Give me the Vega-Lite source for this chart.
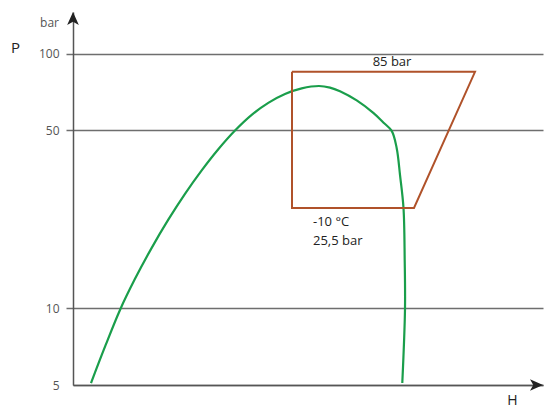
{
  "$schema": "https://vega.github.io/schema/vega-lite/v6.json",
  "width": 470,
  "height": 373,
  "autosize": "none",
  "padding": {"left": 73, "top": 12, "right": 1, "bottom": 23},
  "background": "white",
  "config": {
    "view": {"stroke": null},
    "font": "Open Sans",
    "text": {"font": "Open Sans"}
  },
  "datasets": {
    "dome": [
      {"o": 1, "h": 18, "p": 5.09},
      {"o": 2, "h": 32.5, "p": 7.15},
      {"o": 3, "h": 47, "p": 9.86},
      {"o": 4, "h": 62, "p": 13.06},
      {"o": 5, "h": 78.7, "p": 17.29},
      {"o": 6, "h": 95.3, "p": 22.31},
      {"o": 7, "h": 112, "p": 28.19},
      {"o": 8, "h": 128.7, "p": 34.85},
      {"o": 9, "h": 145.3, "p": 42.19},
      {"o": 10, "h": 162, "p": 49.98},
      {"o": 11, "h": 178.7, "p": 57.59},
      {"o": 12, "h": 195.3, "p": 64.2},
      {"o": 13, "h": 212, "p": 69.55},
      {"o": 14, "h": 228.7, "p": 73.14},
      {"o": 15, "h": 246, "p": 74.74},
      {"o": 16, "h": 257, "p": 73.7},
      {"o": 17, "h": 267, "p": 71.27},
      {"o": 18, "h": 283.7, "p": 65.6},
      {"o": 19, "h": 300.3, "p": 58.6},
      {"o": 20, "h": 310.3, "p": 53.77},
      {"o": 21, "h": 318.7, "p": 49.8},
      {"o": 22, "h": 323.7, "p": 42.6},
      {"o": 23, "h": 327, "p": 33.46},
      {"o": 24, "h": 330.5, "p": 24.8},
      {"o": 25, "h": 331.7, "p": 15.5},
      {"o": 26, "h": 332, "p": 9.95},
      {"o": 27, "h": 329.3, "p": 5.09}
    ],
    "cycle": [
      {"o": 1, "h": 219, "p": 85},
      {"o": 2, "h": 402, "p": 85},
      {"o": 3, "h": 341, "p": 24.8},
      {"o": 4, "h": 219, "p": 24.8},
      {"o": 5, "h": 219, "p": 85}
    ],
    "top_label": [
      {"h": 319, "p": 92.5, "t": "85 bar"}
    ],
    "low_labels": [
      {"h": 240, "p": 21.9, "t": "-10 °C"},
      {"h": 240, "p": 18.4, "t": "25,5 bar"}
    ],
    "unit": [
      {"h": -23.5, "p": 132, "t": "bar"}
    ],
    "arrows": [
      {"h": 0, "p": 146, "s": "M0,0 L0.9,2 L0,1.5 L-0.9,2 Z"},
      {"h": 470, "p": 5, "s": "M0,0 L-2,-0.9 L-1.5,0 L-2,0.9 Z"}
    ]
  },
  "encoding": {
    "x": {
      "field": "h", "type": "quantitative",
      "scale": {"domain": [0, 470], "nice": false, "zero": false},
      "axis": {
        "title": "H", "ticks": false, "labels": false, "grid": false,
        "domainColor": "#555", "domainWidth": 1.5,
        "titleFont": "Open Sans", "titleFontSize": 14, "titleFontWeight": "normal", "titleColor": "#222",
        "titleX": 439, "titleY": 19, "titleAlign": "center", "titleBaseline": "alphabetic"
      }
    },
    "y": {
      "field": "p", "type": "quantitative",
      "scale": {"type": "log", "domain": [5, 146], "nice": false, "zero": false},
      "axis": {
        "title": "P", "values": [5, 10, 50, 100],
        "grid": true, "gridColor": "#6e6e6e", "gridWidth": 1.5,
        "ticks": true, "tickSize": 7, "tickColor": "#6e6e6e", "tickWidth": 1.5,
        "tickOpacity": {"condition": {"test": "datum.value == 5", "value": 0}, "value": 1},
        "domainColor": "#555", "domainWidth": 1.5,
        "labelFont": "Open Sans", "labelFontSize": 12, "labelColor": "#555", "labelPadding": 7,
        "titleFont": "Open Sans", "titleFontSize": 15, "titleFontWeight": "normal", "titleColor": "#222",
        "titleAngle": 0, "titleX": -58, "titleY": 35, "titleAlign": "center", "titleBaseline": "middle"
      }
    }
  },
  "layer": [
    {
      "data": {"name": "dome"},
      "mark": {"type": "line", "interpolate": "catmull-rom", "color": "#1a9e4b", "strokeWidth": 2.2},
      "encoding": {"order": {"field": "o", "type": "quantitative"}}
    },
    {
      "data": {"name": "cycle"},
      "mark": {"type": "line", "color": "#b0522a", "strokeWidth": 2},
      "encoding": {"order": {"field": "o", "type": "quantitative"}}
    },
    {
      "data": {"name": "top_label"},
      "mark": {"type": "text", "fontSize": 13, "color": "#222", "baseline": "middle", "align": "center", "clip": false},
      "encoding": {"text": {"field": "t"}}
    },
    {
      "data": {"name": "low_labels"},
      "mark": {"type": "text", "fontSize": 13, "color": "#222", "baseline": "middle", "align": "left", "clip": false},
      "encoding": {"text": {"field": "t"}}
    },
    {
      "data": {"name": "unit"},
      "mark": {"type": "text", "fontSize": 12, "color": "#555", "baseline": "middle", "align": "center", "clip": false},
      "encoding": {"text": {"field": "t"}}
    },
    {
      "data": {"name": "arrows"},
      "mark": {"type": "point", "filled": true, "color": "#222", "size": 169, "opacity": 1, "clip": false, "strokeWidth": 0},
      "encoding": {"shape": {"field": "s", "type": "nominal", "scale": null}}
    }
  ]
}
